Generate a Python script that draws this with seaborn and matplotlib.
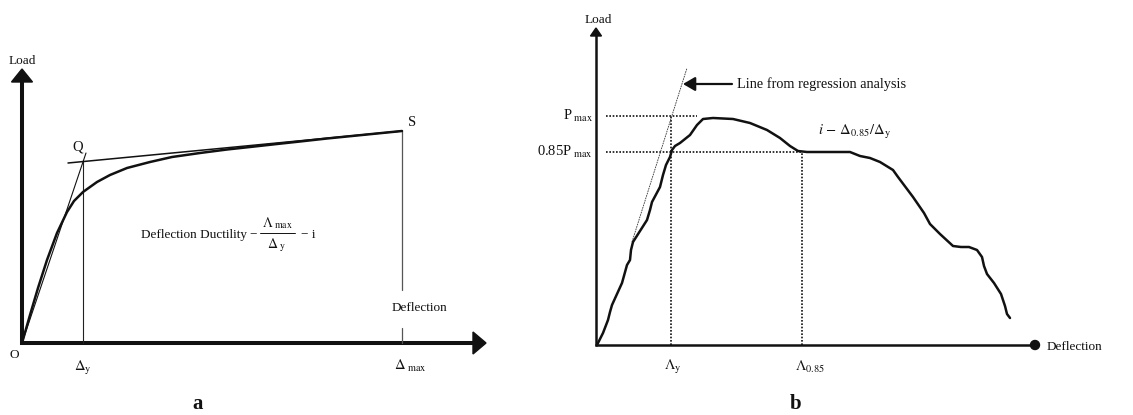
import matplotlib
matplotlib.use("Agg")
import matplotlib.pyplot as plt
import seaborn as sns
from matplotlib.patches import Polygon, Circle

# ---------------- panel a: idealised load-deflection curve ----------------
a_deflection = [0, 8, 16, 25, 35, 45, 52, 61, 75, 88, 105, 128, 150, 178,
                205, 228, 255, 278, 305, 330, 355, 380]
a_load = [0, 28, 55, 83, 110, 131, 142, 151, 161, 168, 175, 181, 186, 190,
          193.5, 196, 199, 201.5, 204.5, 207, 209.5, 212]
a_secant_x = [0, 64]
a_secant_y = [0, 190]
a_tangent_x = [46, 380]
a_tangent_y = [180, 212]
a_delta_y = 61
a_delta_max = 380
a_load_q = 183
a_load_s = 212

# ---------------- panel b: measured load-deflection curve ----------------
b_deflection = [1, 7, 12, 14, 16, 21, 26, 31, 34, 35, 37, 44, 51, 54, 56, 64,
                67, 70, 74, 76, 79, 84, 94, 101, 107, 117, 137, 154, 171, 184,
                194, 202, 211, 237, 254, 264, 274, 284, 297, 302, 317, 328,
                334, 344, 357, 365, 373, 381, 386, 388, 391, 398, 405, 409,
                411, 414]
b_load = [0, 12, 25, 33, 40, 51, 62, 80, 85, 95, 103, 114, 125, 135, 143, 158,
          170, 180, 188, 195, 199, 202, 210, 220, 226, 227, 226, 222, 215, 207,
          199, 194, 193, 193, 193, 189, 187, 183, 175, 168, 148, 132, 121,
          111, 99, 98, 98, 95, 88, 79, 71, 62, 51, 39, 31, 27]
b_regression_x = [36, 91]
b_regression_y = [103, 277]
b_p_max = 229
b_p_085 = 193
b_delta_y = 75
b_delta_085 = 206

sns.set_theme(style="white")
plt.rcParams["font.family"] = ["Liberation Serif", "DejaVu Serif"]
plt.rcParams["mathtext.fontset"] = "stix"

W, H = 1133, 415
fig = plt.figure(figsize=(W / 100, H / 100), dpi=100)
fig.patch.set_facecolor("white")

ink = "#111111"

# ---- panel a ----
ax = fig.add_axes([0, 0, 560 / W, 1])
ax.set_xlim(-22, 538)
ax.set_ylim(-72, 343)
ax.set_axis_off()

# axes with arrow heads
ax.plot([0, 0], [-2, 262], color=ink, lw=2.9, solid_capstyle="butt")
ax.add_patch(Polygon([[-10.5, 261], [10.5, 261], [0, 274]], closed=True, color=ink))
ax.plot([-2, 452], [0, 0], color=ink, lw=2.9, solid_capstyle="butt")
ax.add_patch(Polygon([[451, -11], [451, 11], [464, 0]], closed=True, color=ink))

# reference lines
ax.plot([a_delta_y, a_delta_y], [0, a_load_q], color="#222222", lw=0.8)
ax.plot([a_delta_max, a_delta_max], [53, a_load_s], color="#555555", lw=0.9)
ax.plot([a_delta_max, a_delta_max], [0, 15], color="#555555", lw=0.9)
sns.lineplot(x=a_secant_x, y=a_secant_y, ax=ax, color=ink, lw=0.8,
             estimator=None, sort=False)
sns.lineplot(x=a_tangent_x, y=a_tangent_y, ax=ax, color=ink, lw=1.1,
             estimator=None, sort=False)
sns.lineplot(x=a_deflection, y=a_load, ax=ax, color=ink, lw=1.8,
             estimator=None, sort=False)

fs = 9.5
ax.text(0, 282, "Load", ha="center", va="center", fontsize=fs, color=ink)
ax.text(56, 196, "Q", ha="center", va="center", fontsize=fs + 1, color=ink)
ax.text(386, 220, "S", ha="left", va="center", fontsize=fs + 1, color=ink)
ax.text(-8, -12, "O", ha="center", va="center", fontsize=fs, color=ink)
ax.text(a_delta_y, -25, r"$\Delta_{\mathrm{y}}$", ha="center", va="center",
        fontsize=fs + 1, color=ink)
ax.text(a_delta_max + 8, -23, r"$\Delta_{\ \mathrm{max}}$", ha="center",
        va="center", fontsize=fs + 1, color=ink)
ax.text(a_delta_max + 17, 35, "Deflection", ha="center", va="center",
        fontsize=fs, color=ink)

# ductility definition, written as a stacked fraction
ax.text(119, 108, "Deflection Ductility", ha="left", va="center",
        fontsize=fs, color=ink)
ax.text(231, 108, "\u2212", ha="center", va="center", fontsize=fs, color=ink)
ax.text(255, 120, r"$\Lambda_{\ \mathrm{max}}$", ha="center", va="center",
        fontsize=fs + 0.5, color=ink)
ax.plot([238, 273], [110, 110], color=ink, lw=0.7)
ax.text(255, 98, r"$\Delta_{\ \mathrm{y}}$", ha="center", va="center",
        fontsize=fs + 0.5, color=ink)
ax.text(279, 108, "\u2212 i", ha="left", va="center", fontsize=fs, color=ink)

ax.text(176, -66, "a", ha="center", va="baseline", fontsize=15,
        fontweight="bold", color=ink)

# ---- panel b ----
bx = fig.add_axes([560 / W, 0, 573 / W, 1])
bx.set_xlim(-36, 537)
bx.set_ylim(-70, 345)
bx.set_axis_off()

bx.plot([0, 0], [-1, 310], color=ink, lw=1.8, solid_capstyle="butt")
bx.add_patch(Polygon([[-5.5, 309], [5.5, 309], [0, 317]], closed=True, color=ink))
bx.plot([-1, 439], [0, 0], color=ink, lw=1.8, solid_capstyle="butt")
bx.add_patch(Circle((439, 0), 4.5, color=ink))

dot = (0, (1, 1))
bx.plot([10, b_delta_y + 26], [b_p_max, b_p_max], color=ink, lw=1.2, ls=dot)
bx.plot([10, b_delta_085], [b_p_085, b_p_085], color=ink, lw=1.2, ls=dot)
bx.plot([b_delta_y, b_delta_y], [0, b_p_max], color=ink, lw=1.2, ls=dot)
bx.plot([b_delta_085, b_delta_085], [0, b_p_085], color=ink, lw=1.2, ls=dot)

sns.lineplot(x=b_regression_x, y=b_regression_y, ax=bx, color="#333333",
             lw=0.6, ls=(0, (2, 1)), estimator=None, sort=False)
sns.lineplot(x=b_deflection, y=b_load, ax=bx, color=ink, lw=1.8,
             estimator=None, sort=False)

bx.annotate("", xy=(87, 261), xytext=(136, 261),
            arrowprops=dict(arrowstyle="-|>,head_length=0.6,head_width=0.35",
                            color=ink, lw=1.6, shrinkA=0, shrinkB=0))
bx.text(141, 261, "Line from regression analysis", ha="left", va="center",
        fontsize=10.3, color=ink)
bx.text(222, 213, r"$i\,-\,\Delta_{0.85}/\Delta_{\mathrm{y}}$", ha="left",
        va="center", fontsize=fs + 1, color=ink)

bx.text(2, 325, "Load", ha="center", va="center", fontsize=fs, color=ink)
bx.text(-3, b_p_max, r"P$_{\ \mathrm{max}}$", ha="right", va="center",
        fontsize=fs + 1, color=ink)
bx.text(-3, b_p_085, r"0.85P$_{\ \mathrm{max}}$", ha="right", va="center",
        fontsize=fs + 1, color=ink)
bx.text(b_delta_y + 2, -22, r"$\Lambda_{\mathrm{y}}$", ha="center",
        va="center", fontsize=fs + 1, color=ink)
bx.text(b_delta_085 - 7, -22, r"$\Lambda_{0.85}$", ha="left", va="center",
        fontsize=fs + 1, color=ink)
bx.text(451, -2, "Deflection", ha="left", va="center", fontsize=fs, color=ink)
bx.text(200, -64, "b", ha="center", va="baseline", fontsize=15,
        fontweight="bold", color=ink)

fig.savefig("out.png", dpi=100, facecolor="white")
